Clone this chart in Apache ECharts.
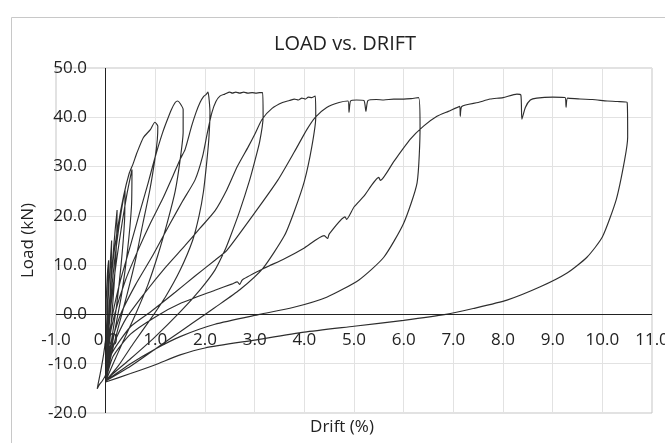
<!DOCTYPE html>
<html>
<head>
<meta charset="utf-8">
<script src="https://cdn.jsdelivr.net/npm/echarts@6/dist/echarts.min.js"></script>
<style>
html,body{margin:0;padding:0;background:#fff;}
#c{width:665px;height:443px;}
</style>
</head>
<body>
<div id="c"></div>
<script>
// ---- Data (drift %, load kN) ----
const chartTitle = "LOAD vs. DRIFT";
const xAxisTitle = "Drift (%)";
const yAxisTitle = "Load (kN)";
const xMin = -1, xMax = 11, xStep = 1;
const yMin = -20, yMax = 50, yStep = 10;

const cycle01 = [[0,0],[0.02,5],[0.04,9],[0.06,11],[0.05,6],[0.03,1],[0.01,-4],[-0.04,-8],[-0.1,-11.5],[-0.15,-14],[-0.17,-15.1],[-0.13,-14.3],[-0.07,-13.5],[0,-12.2]];
const cycle02 = [[0,-12.2],[0.02,-4],[0.05,3],[0.09,10],[0.12,15],[0.11,9],[0.08,2],[0.04,-6],[0,-13.5]];
const cycle03 = [[0,-13.5],[0.03,-5],[0.08,3],[0.14,11],[0.19,17],[0.23,21.2],[0.22,15],[0.17,6],[0.11,-2],[0.05,-8.5],[0,-13.5]];
const cycle04 = [[0,-13.5],[0.04,-5],[0.1,3],[0.18,11],[0.27,18],[0.34,22.5],[0.39,25.3],[0.38,19],[0.31,10],[0.21,1],[0.1,-6.5],[0,-13.5]];
const cycle05 = [[0,-13.5],[0.05,-5],[0.12,3],[0.22,11],[0.33,18.5],[0.43,24.5],[0.5,28],[0.53,29.4],[0.52,22],[0.44,13],[0.32,4],[0.18,-3.5],[0.07,-9.5],[0,-13.5]];
const cycle10 = [[0,-13.5],[0.03,-5],[0.08,3],[0.15,11],[0.25,18],[0.36,24],[0.47,28.5],[0.55,30.5],[0.63,32.8],[0.76,35.9],[0.9,37.5],[0.99,39],[1.05,38.2],
  [1.04,35.5],[0.99,31.4],[0.89,25.3],[0.75,18.5],[0.6,11],[0.43,4],[0.27,-2],[0.13,-7.5],[0.04,-11.5],[0,-13.5]];
const cycle15 = [[0,-13.5],[0.05,-6],[0.14,0],[0.3,7],[0.5,14],[0.68,20.5],[0.85,26.5],[0.97,31],[1.05,33.8],[1.15,37],[1.23,39.2],[1.32,41.5],[1.4,43],[1.45,43.3],[1.5,42.8],[1.56,41.6],
  [1.56,37],[1.5,31.4],[1.4,25],[1.25,19],[1.05,12],[0.85,6],[0.6,0],[0.35,-5.5],[0.15,-10],[0,-13.5]];
const cycle20 = [[0,-13.5],[0.06,-6],[0.18,0],[0.4,7],[0.65,13],[0.9,18.5],[1.15,23.5],[1.35,28],[1.5,31.5],[1.6,33.5],[1.73,38.2],[1.82,41],[1.9,43],[1.97,44.2],[2.02,44.6],[2.06,45.1],[2.1,41],
  [2.08,36],[2.04,31.4],[1.97,25],[1.88,20],[1.75,15],[1.5,9],[1.2,3.5],[0.9,-1],[0.55,-6],[0.25,-10.5],[0,-13.5]];
const cycle31 = [[0,-13.5],[0.08,-7],[0.3,0],[0.6,6],[0.95,12],[1.3,18.5],[1.55,23],[1.8,27.3],[1.95,32],[2.05,37],[2.14,41],[2.22,43.2],[2.3,44.3],[2.4,44.7],[2.5,45.1],[2.55,44.9],[2.62,45.1],[2.7,44.9],[2.78,45.1],[2.86,44.9],[2.95,45.0],[3.03,44.9],[3.1,45.0],[3.16,45.0],
  [3.17,40],[3.1,35],[3.0,31],[2.9,27.3],[2.7,21],[2.5,15.5],[2.4,13],[2.2,9],[1.9,5],[1.5,0.5],[1.0,-4.5],[0.5,-9],[0.15,-12],[0,-13.5]];
const cycle42 = [[0,-13.5],[0.1,-7.5],[0.4,-1],[0.8,4.5],[1.2,9.5],[1.6,14],[1.9,17.5],[2.2,21],[2.44,25.3],[2.65,30],[2.87,34],[3.0,36.5],[3.15,39.6],[3.35,41.8],[3.56,43],[3.7,43.4],[3.8,43.7],[3.88,43.5],[3.95,43.9],[4.02,43.7],[4.08,44.1],[4.15,44.0],[4.22,44.3],
  [4.23,40],[4.15,34],[4.0,27],[3.8,21],[3.6,16],[3.17,9.4],[2.7,5],[2.2,1.4],[2.0,0],[1.5,-3.5],[1.0,-7],[0.5,-10.5],[0,-13.5]];
const cycle63 = [[0,-13.5],[0.12,-8],[0.5,-2.5],[0.9,0.5],[1.4,4.5],[1.8,7.8],[2.2,11],[2.44,13],[3.0,20.6],[3.47,27.3],[3.8,33],[4.05,37.5],[4.22,40],[4.45,42],[4.7,43],[4.88,43.3],[4.9,41],[4.93,43.3],[5.05,43.5],[5.2,43.4],[5.24,41.2],[5.28,43.4],[5.45,43.6],[5.6,43.5],[5.8,43.7],[6.0,43.7],[6.15,43.8],[6.3,44],
  [6.33,38],[6.27,26.7],[6.0,18.5],[5.6,11.6],[5.1,7],[4.45,3.5],[3.77,1.4],[3.1,0],[2.2,-2],[1.5,-4.5],[1.0,-7],[0.5,-10],[0,-13.5]];
const cycle105 = [[0,-13.5],[0.15,-8.5],[0.5,-4],[1.0,-0.5],[1.5,2.2],[2.2,4.9],[2.55,6.2],[2.65,6.6],[2.7,6.1],[2.75,7],[3.2,9.4],[3.6,11.3],[4.0,13.5],[4.4,16],[4.47,15.4],[4.5,16.3],[4.82,19.8],[4.85,19.3],[5.0,21.8],[5.2,24],[5.5,27.8],[5.53,27.2],[5.8,31],[6.13,35.5],[6.4,38.2],[6.67,40.2],[6.9,41.2],[7.13,42.2],[7.14,40.2],[7.17,42.2],[7.5,43],[7.74,43.7],[8.0,44],[8.28,44.7],[8.36,44.5],[8.38,39.6],[8.45,42],[8.55,43.5],[8.68,43.9],[9.0,44.1],[9.25,44.0],[9.27,42],[9.3,43.9],[9.55,43.7],[9.8,43.6],[10.1,43.3],[10.3,43.2],[10.5,43],
  [10.51,36],[10.45,31.4],[10.28,23.3],[10.0,15.7],[9.69,11.6],[9.29,8.4],[8.75,5.6],[8.08,2.9],[7.4,1.2],[6.85,0],[6.0,-1.2],[5.0,-2.4],[4.0,-3.6],[3.0,-5.2],[2.0,-6.8],[1.5,-8.2],[1.0,-10.2],[0.5,-12],[0,-13.7]];

const cycles = [cycle01, cycle02, cycle03, cycle04, cycle05, cycle10, cycle15, cycle20, cycle31, cycle42, cycle63, cycle105];
const path = [].concat(...cycles);

const FONT = "'Open Sans', 'Noto Sans', sans-serif";
const chart = echarts.init(document.getElementById('c'), null, {renderer: 'canvas'});
chart.setOption({
  animation: false,
  backgroundColor: '#fff',
  textStyle: {fontFamily: FONT},
  title: {
    text: chartTitle, left: 345, top: 34, textAlign: 'center', padding: 0,
    textStyle: {fontFamily: FONT, fontSize: 20, fontWeight: 'normal', color: '#222'}
  },
  graphic: [{
    type: 'rect', silent: true, z: -1,
    shape: {x: 11.5, y: 17.5, width: 720, height: 520},
    style: {fill: null, stroke: '#c8c8c8', lineWidth: 1}
  }],
  grid: {left: 56, right: 13, top: 68, bottom: 30, outerBoundsMode: 'none',
         show: true, borderColor: '#c4c4c4', borderWidth: 1, backgroundColor: 'transparent'},
  xAxis: {
    type: 'value', min: xMin, max: xMax, interval: xStep, position: 'bottom',
    name: xAxisTitle, nameLocation: 'middle', nameGap: 3,
    nameTextStyle: {fontFamily: FONT, fontSize: 17, color: '#222', padding: [0, 24, 0, 0], verticalAlign: 'top'},
    axisLine: {show: false, onZero: false},
    axisTick: {show: false},
    axisLabel: {margin: -81, fontSize: 17, color: '#222', fontFamily: FONT, formatter: v => v.toFixed(1)},
    splitLine: {show: true, lineStyle: {color: '#e2e2e2', width: 1}}
  },
  yAxis: {
    type: 'value', min: yMin, max: yMax, interval: yStep, position: 'left',
    name: yAxisTitle, nameLocation: 'middle', nameGap: 9, nameRotate: 90,
    nameTextStyle: {fontFamily: FONT, fontSize: 17, color: '#222', verticalAlign: 'bottom'},
    axisLine: {show: false, onZero: false},
    axisTick: {show: false},
    axisLabel: {margin: -31, fontSize: 17, color: '#222', fontFamily: FONT, align: 'right', formatter: v => v.toFixed(1)},
    splitLine: {show: true, lineStyle: {color: '#e2e2e2', width: 1}}
  },
  series: [{
    type: 'line', data: path, showSymbol: false, smooth: 0.2,
    lineStyle: {color: '#2e2e2e', width: 1.15}, clip: true,
    markLine: {
      silent: true, symbol: 'none', animation: false,
      label: {show: false},
      lineStyle: {color: '#222', width: 1, type: 'solid'},
      data: [{xAxis: 0}, {yAxis: 0}]
    }
  }]
});
</script>
</body>
</html>
